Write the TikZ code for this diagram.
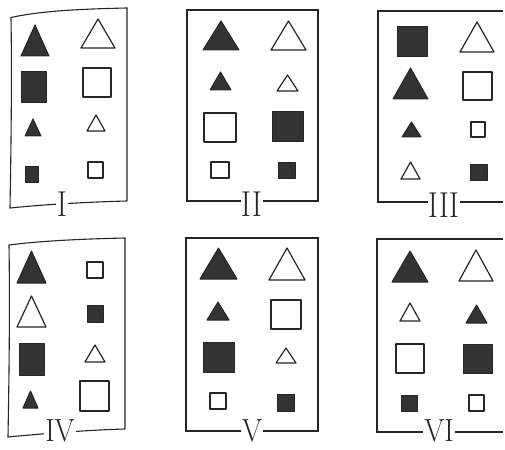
\documentclass[tikz,border=0pt]{standalone}
\usepackage{graphicx}
\tikzset{
  frame/.style={draw=black!85, line width=1.1pt},
  filledshape/.style={draw=black!85, fill=black!80, line width=1pt, line join=round},
  openshape/.style={draw=black!85, fill=white, line width=1.2pt, line join=round},
  numeral/.style={fill=white, inner xsep=1pt, inner ysep=0pt, anchor=base, text=black!85,
    font=\fontsize{36}{36}\selectfont},
  lownumeral/.style={numeral, font=\fontsize{32}{32}\selectfont}
}
% triangle: style, centre x, bottom y, half width, top y
\newcommand\mytri[5]{\path[#1] (#2-#4,#3) -- (#2+#4,#3) -- (#2,#5) -- cycle;}
% square: style, x1, y1, x2, y2
\newcommand\mysq[5]{\path[#1] (#2,#3) rectangle (#4,#5);}
\newcommand\numtext[1]{\scalebox{0.82}[1]{#1}}
\newcommand\lownumtext[1]{\scalebox{0.9}[1]{#1}}
\begin{document}
\begin{tikzpicture}[x=1pt,y=-1pt]
\fill[white] (0,0) rectangle (505,449);
\useasboundingbox (0,0) rectangle (505,449);

% ---------- frames ----------
\draw[frame] (127,201) -- (127,8) .. controls (80,9) and (40,11) .. (11,17.5)
  .. controls (12,80) and (11,150) .. (10,208) .. controls (50,204) and (90,202) .. (127,201);
\draw[frame] (187,10) rectangle (318,201);
\draw[frame] (503,11) -- (378,11) -- (378,202) -- (503,202);
\draw[frame] (125,429) -- (125,238) .. controls (80,239) and (40,241) .. (9,245)
  .. controls (10,310) and (9,380) .. (8,437) .. controls (50,433) and (90,430) .. (125,429);
\draw[frame] (186,238) rectangle (318,431);
\draw[frame] (503,239) -- (377,239) -- (377,432) -- (503,432);

% ---------- panel I ----------
\mytri{filledshape}{35}{56}{14}{25}
\mytri{openshape}{98}{48}{17}{19}
\mysq{filledshape}{21}{72}{46}{103}
\mysq{openshape}{83}{68}{111}{97}
\mytri{filledshape}{33}{136}{8}{119}
\mytri{openshape}{96}{131}{9}{115}
\mysq{filledshape}{25}{166}{38}{182}
\mysq{openshape}{88}{162}{103}{178}

% ---------- panel II ----------
\mytri{filledshape}{221}{50}{18}{21}
\mytri{openshape}{288.5}{50}{17.5}{21}
\mytri{filledshape}{220.5}{90}{10.5}{72}
\mytri{openshape}{287.5}{91}{10.5}{75}
\mysq{openshape}{204}{113}{236}{142}
\mysq{filledshape}{272}{112}{303}{142}
\mysq{openshape}{211}{162}{229}{178}
\mysq{filledshape}{278}{162}{295}{178}

% ---------- panel III ----------
\mysq{filledshape}{397}{27}{427}{57}
\mytri{openshape}{477}{52}{17}{22}
\mytri{filledshape}{410.5}{99}{17.5}{68}
\mysq{openshape}{463}{72}{492}{100}
\mytri{filledshape}{411.5}{137}{9.5}{122}
\mysq{openshape}{471}{122}{485}{137}
\mytri{openshape}{410.5}{179}{9.5}{162}
\mysq{filledshape}{470}{164}{487}{180}

% ---------- panel IV ----------
\mytri{filledshape}{31.5}{283}{14.5}{251}
\mysq{openshape}{87}{262}{103}{278}
\mytri{openshape}{31.5}{327}{14.5}{296}
\mysq{filledshape}{87}{305}{103}{322}
\mysq{filledshape}{19}{343}{44}{375}
\mytri{openshape}{95}{362}{10}{345}
\mytri{filledshape}{30.5}{408}{7.5}{391}
\mysq{openshape}{80}{381}{109}{411}

% ---------- panel V ----------
\mytri{filledshape}{218.5}{279}{18.5}{248}
\mytri{openshape}{287}{280}{18}{248}
\mytri{filledshape}{218}{320}{11}{302}
\mysq{openshape}{271}{300}{301}{329}
\mysq{filledshape}{203}{342}{234}{372}
\mytri{openshape}{286}{363}{10}{348}
\mysq{openshape}{210}{393}{226}{409}
\mysq{filledshape}{277}{394}{294}{411}

% ---------- panel VI ----------
\mytri{filledshape}{410}{282}{18}{251}
\mytri{openshape}{476}{281}{17}{250}
\mytri{openshape}{410}{321}{10}{303}
\mytri{filledshape}{476.5}{323}{10.5}{305}
\mysq{openshape}{396}{344}{424}{373}
\mysq{filledshape}{463}{344}{492}{373}
\mysq{filledshape}{401}{395}{417}{411}
\mysq{openshape}{469}{395}{484}{411}

% ---------- numerals ----------
\node[numeral] (n1) at (62,216) {\numtext{I}};
\node[numeral] (n2) at (252,216) {\numtext{II}};
\node[numeral] (n3) at (444,217) {\numtext{III}};
\node[lownumeral] (n4) at (60,441) {\lownumtext{IV}};
\node[lownumeral] (n5) at (252,441) {\lownumtext{V}};
\node[lownumeral] (n6) at (439,441) {\lownumtext{VI}};
\end{tikzpicture}
\end{document}
